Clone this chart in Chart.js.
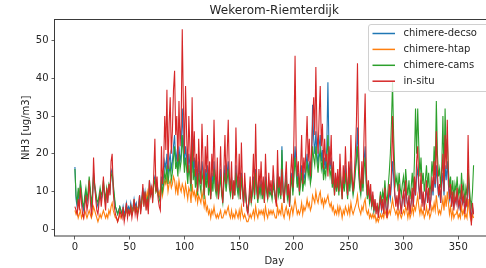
<!DOCTYPE html>
<html>
<head>
<meta charset="utf-8">
<script src="https://cdn.jsdelivr.net/npm/chart.js@4.4.1/dist/chart.umd.min.js"></script>
<style>
    body { margin: 0; background: #fff; overflow: hidden; }
    #wrap { width: 486px; height: 268px; overflow: hidden; }
    canvas { display: block; }
</style>
</head>
<body>
<div id="wrap"><canvas id="chart" width="520" height="268"></canvas></div>
<script>
// days of the year 0..364
const days = Array.from({length: 365}, (_, i) => i);

const seriesNames = ['chimere-decso', 'chimere-htap', 'chimere-cams', 'in-situ'];
const seriesColors = ['#1f77b4', '#ff7f0e', '#2ca02c', '#d62728'];

const xTicks = [0, 50, 100, 150, 200, 250, 300, 350];
const yTicks = [0, 10, 20, 30, 40, 50];

// values, 10 days per row
const decso = [
    16.5, 8, 6, 10, 7, 12, 9, 6, 5, 8,
    10, 7, 9, 12, 10, 6, 8, 15, 11, 9,
    7, 6, 8, 10, 8, 9, 12, 9, 7, 10,
    8, 11, 10, 15, 16, 11, 8, 6, 5, 4,
    5, 6, 5, 4, 6, 4, 5, 7, 5, 6,
    5, 7, 5, 6, 8, 6, 7, 5, 6, 9,
    6, 8, 11, 8, 10, 7, 9, 6, 13, 10,
    11, 9, 13, 14, 11, 12, 10, 9, 8, 14,
    12, 14, 18, 16, 20, 14, 18, 20, 16, 18,
    22, 25, 18, 20, 16, 22, 18, 20, 32, 24,
    17, 22, 19, 14, 20, 17, 12, 26, 15, 19,
    13, 16, 11, 18, 14, 12, 18, 15, 10, 16,
    13, 17, 11, 14, 9, 15, 12, 18, 13, 10,
    14, 9, 12, 16, 10, 8, 13, 17, 11, 15,
    18, 12, 10, 14, 9, 12, 10, 17, 12, 10,
    14, 9, 15, 11, 7, 12, 9, 6, 5, 8,
    11, 8, 10, 14, 9, 16, 11, 8, 12, 10,
    13, 9, 12, 8, 14, 11, 9, 12, 10, 11,
    9, 13, 11, 9, 8, 15, 10, 12, 9, 22,
    11, 8, 12, 14, 9, 11, 7, 12, 15, 10,
    16, 22, 17, 12, 15, 10, 13, 17, 11, 15,
    13, 17, 20, 15, 18, 13, 16, 33, 24, 20,
    26, 20, 17, 22, 25, 18, 21, 15, 19, 16,
    22, 39, 20, 16, 19, 12, 16, 10, 14, 11,
    14, 10, 16, 12, 9, 14, 11, 17, 12, 9,
    15, 11, 18, 13, 10, 12, 16, 20, 27, 17,
    12, 10, 15, 11, 18, 22, 13, 9, 12, 8,
    10, 6, 9, 5, 7, 5, 6, 4, 6, 8,
    5, 7, 5, 9, 6, 4, 7, 10, 8, 12,
    18, 14, 9, 7, 8, 6, 10, 7, 5, 8,
    9, 6, 11, 8, 6, 8, 5, 7, 10, 6,
    12, 9, 14, 16, 11, 8, 13, 7, 9, 6,
    8, 11, 7, 10, 6, 8, 12, 9, 14, 11,
    17, 12, 9, 10, 7, 12, 15, 9, 17, 13,
    18, 12, 8, 10, 6, 9, 6, 8, 7, 10,
    6, 7, 5, 10, 7, 8, 5, 7, 6, 14,
    9, 5, 3, 6, 4
];

const htap = [
    5, 4, 5, 3, 4, 5, 3, 4, 3, 5,
    4, 3, 4, 5, 4, 3, 4, 6, 5, 4,
    3, 2, 3, 4, 3, 4, 5, 4, 3, 4,
    3, 5, 4, 6, 7, 5, 4, 3, 3, 2,
    3, 4, 3, 4, 5, 3, 4, 5, 4, 5,
    4, 6, 5, 5, 7, 5, 6, 5, 6, 7,
    6, 8, 9, 7, 9, 8, 10, 8, 12, 10,
    11, 9, 13, 12, 10, 11, 9, 10, 8, 12,
    9, 11, 13, 12, 14, 10, 12, 13, 11, 12,
    14, 13, 10, 12, 9, 13, 11, 10, 12, 11,
    9, 12, 10, 8, 11, 10, 7, 12, 9, 10,
    8, 10, 7, 9, 8, 7, 10, 8, 6, 8,
    5, 6, 4, 5, 3, 5, 4, 6, 4, 3,
    4, 3, 4, 5, 3, 3, 4, 5, 4, 5,
    6, 4, 3, 5, 3, 4, 3, 5, 4, 3,
    5, 3, 6, 4, 3, 4, 3, 2, 2, 3,
    4, 3, 4, 5, 3, 6, 4, 3, 5, 4,
    5, 4, 5, 3, 6, 4, 3, 5, 4, 5,
    4, 5, 4, 3, 3, 6, 4, 5, 4, 7,
    4, 3, 5, 6, 4, 5, 3, 5, 6, 4,
    6, 8, 6, 4, 5, 4, 5, 7, 4, 6,
    5, 6, 8, 6, 7, 5, 6, 9, 8, 7,
    10, 8, 7, 9, 10, 7, 8, 6, 8, 7,
    8, 9, 7, 6, 7, 5, 6, 4, 5, 4,
    6, 4, 6, 5, 3, 5, 4, 6, 5, 4,
    6, 4, 7, 5, 4, 5, 6, 7, 9, 6,
    5, 4, 6, 5, 7, 8, 5, 4, 5, 3,
    4, 3, 4, 3, 4, 2, 3, 2, 3, 4,
    3, 4, 3, 5, 4, 3, 4, 5, 4, 6,
    8, 6, 5, 4, 5, 3, 5, 4, 3, 4,
    5, 4, 6, 5, 3, 5, 3, 4, 6, 4,
    6, 5, 7, 9, 6, 4, 6, 4, 5, 3,
    4, 6, 4, 5, 3, 4, 6, 5, 7, 5,
    9, 6, 4, 5, 4, 6, 8, 5, 9, 6,
    10, 7, 4, 6, 3, 5, 3, 4, 4, 5,
    3, 4, 3, 6, 4, 5, 3, 4, 3, 8,
    5, 3, 2, 4, 3
];

const cams = [
    16, 9, 7, 11, 8, 13, 10, 7, 6, 9,
    11, 8, 10, 14, 11, 7, 9, 14, 12, 10,
    8, 7, 9, 11, 9, 10, 13, 10, 8, 11,
    9, 12, 11, 14, 15, 12, 9, 6, 5, 4,
    5, 6, 5, 4, 5, 3, 4, 6, 4, 5,
    4, 6, 4, 5, 7, 5, 6, 4, 5, 8,
    5, 7, 10, 7, 9, 6, 8, 5, 11, 9,
    10, 8, 12, 13, 10, 11, 9, 8, 7, 12,
    10, 12, 15, 13, 17, 12, 15, 17, 13, 15,
    19, 22, 16, 18, 14, 20, 16, 18, 25, 20,
    15, 19, 16, 12, 17, 14, 10, 22, 13, 16,
    11, 14, 9, 15, 12, 10, 15, 13, 8, 14,
    11, 15, 9, 12, 8, 13, 10, 16, 11, 9,
    12, 8, 11, 14, 9, 7, 12, 15, 10, 13,
    16, 11, 9, 13, 8, 11, 9, 15, 11, 9,
    13, 8, 14, 10, 7, 11, 8, 6, 5, 7,
    10, 7, 9, 13, 8, 15, 10, 7, 11, 9,
    12, 8, 11, 7, 13, 10, 8, 11, 9, 10,
    8, 12, 10, 8, 7, 14, 9, 11, 8, 21,
    10, 7, 11, 13, 8, 10, 6, 11, 14, 9,
    14, 19, 15, 11, 14, 9, 12, 15, 10, 13,
    12, 15, 18, 14, 16, 12, 14, 22, 19, 17,
    22, 18, 15, 19, 21, 16, 18, 13, 16, 14,
    18, 25, 17, 14, 16, 11, 14, 9, 13, 10,
    13, 9, 15, 11, 8, 13, 10, 15, 11, 8,
    14, 10, 16, 12, 9, 11, 15, 18, 22, 15,
    11, 9, 14, 10, 16, 19, 12, 8, 11, 7,
    9, 6, 8, 5, 7, 5, 6, 5, 7, 10,
    7, 10, 8, 13, 9, 7, 11, 15, 20, 28,
    39, 25, 16, 12, 14, 10, 15, 11, 9, 12,
    14, 10, 16, 12, 9, 13, 8, 11, 15, 10,
    18, 32, 20, 32, 22, 14, 19, 12, 15, 10,
    13, 17, 11, 15, 9, 12, 18, 14, 22, 16,
    34, 20, 14, 16, 11, 17, 30, 14, 32, 19,
    24, 16, 11, 14, 9, 13, 8, 12, 10, 14,
    9, 11, 8, 15, 10, 12, 7, 11, 9, 16,
    12, 8, 6, 10, 17
];

const insitu = [
    6, 5, 4, 8, 5, 11, 7, 4, 3, 6,
    9, 5, 7, 13, 8, 4, 6, 19, 12, 8,
    5, 4, 7, 10, 6, 9, 14, 8, 5, 11,
    7, 12, 9, 18, 20, 10, 6, 4, 3, 2,
    3, 5, 4, 3, 6, 2, 4, 7, 3, 5,
    4, 6, 3, 5, 8, 4, 6, 3, 5, 9,
    4, 7, 12, 6, 10, 5, 8, 4, 13, 9,
    11, 7, 15, 24, 10, 14, 8, 6, 5, 22,
    12, 17, 30, 21, 37, 16, 28, 35, 20, 26,
    37, 42, 25, 30, 18, 34, 22, 28, 53, 33,
    20, 38, 25, 15, 30, 22, 12, 35, 18, 26,
    14, 20, 10, 24, 16, 12, 28, 18, 9, 22,
    15, 25, 11, 18, 8, 20, 14, 29, 16, 10,
    19, 8, 13, 22, 11, 7, 16, 25, 12, 20,
    29, 14, 10, 18, 8, 13, 9, 27, 15, 11,
    20, 8, 23, 12, 6, 15, 10, 5, 4, 9,
    14, 7, 12, 20, 9, 28, 13, 8, 16, 11,
    18, 9, 14, 7, 20, 12, 8, 15, 10, 13,
    9, 17, 12, 8, 6, 21, 11, 14, 9, 16,
    10, 7, 13, 18, 9, 12, 6, 15, 20, 11,
    25, 46, 22, 14, 18, 10, 16, 25, 12, 19,
    15, 22, 30, 18, 24, 14, 20, 28, 35, 25,
    43, 26, 20, 30, 38, 22, 28, 16, 24, 18,
    20, 14, 22, 17, 25, 12, 18, 9, 15, 11,
    16, 10, 20, 13, 8, 17, 12, 22, 14, 9,
    18, 12, 25, 15, 10, 14, 20, 28, 44, 22,
    14, 10, 18, 12, 25, 36, 16, 9, 13, 8,
    12, 6, 10, 5, 8, 4, 7, 3, 6, 9,
    5, 8, 4, 11, 6, 3, 7, 12, 9, 15,
    30, 18, 10, 6, 9, 5, 12, 7, 4, 8,
    10, 6, 13, 8, 5, 9, 4, 7, 11, 6,
    14, 9, 18, 22, 12, 8, 15, 6, 10, 5,
    9, 13, 7, 11, 5, 8, 14, 10, 18, 12,
    26, 15, 9, 12, 7, 14, 20, 10, 25, 16,
    29, 14, 8, 12, 6, 10, 5, 9, 7, 11,
    6, 8, 5, 12, 7, 9, 4, 8, 6, 25,
    10, 5, 1, 7, 4
];

const allSeries = [decso, htap, cams, insitu];

const font = 'DejaVu Sans';
const textColor = '#262626';

// title, box around the plot and legend inside the plot (like matplotlib)
const framePlugin = {
    id: 'frame',
    afterDraw(chart) {
        const ctx = chart.ctx;
        const area = chart.chartArea;
        ctx.save();

        ctx.strokeStyle = '#3a3a3a';
        ctx.lineWidth = 1;
        ctx.strokeRect(area.left - 0.5, area.top, area.right - area.left + 0.5, area.bottom - area.top);

        ctx.fillStyle = textColor;
        ctx.font = '12px ' + font;
        ctx.textAlign = 'center';
        ctx.textBaseline = 'alphabetic';
        ctx.fillText('Wekerom-Riemterdijk', (area.left + area.right) / 2, 13.5);

        // legend box
        const bx = 368.5, by = 24.5, bw = 122, bh = 67;
        ctx.globalAlpha = 0.8;
        ctx.fillStyle = '#fff';
        ctx.beginPath();
        ctx.roundRect(bx, by, bw, bh, 2.5);
        ctx.fill();
        ctx.globalAlpha = 1;
        ctx.strokeStyle = '#d0d0d0';
        ctx.stroke();

        ctx.font = '10px ' + font;
        ctx.textAlign = 'left';
        ctx.textBaseline = 'middle';
        seriesNames.forEach((name, i) => {
            const y = 33.5 + i * 15.9;
            ctx.strokeStyle = seriesColors[i];
            ctx.lineWidth = 1.5;
            ctx.beginPath();
            ctx.moveTo(372.5, y);
            ctx.lineTo(395, y);
            ctx.stroke();
            ctx.fillStyle = textColor;
            ctx.fillText(name, 403.5, y);
        });
        ctx.restore();
    }
};

const datasets = allSeries.map((values, i) => ({
    label: seriesNames[i],
    data: days.map((d, j) => ({x: d, y: values[j]})),
    borderColor: seriesColors[i],
    borderWidth: 1.1,
    pointRadius: 0,
    tension: 0,
    order: allSeries.length - i
}));

const ctx = document.getElementById('chart').getContext('2d');
const chart = new Chart(ctx, {
    type: 'line',
    data: {datasets: datasets},
    plugins: [framePlugin],
    options: {
        responsive: false,
        animation: false,
        devicePixelRatio: 1,
        layout: {padding: {top: 19.5, right: 26.5, left: 0, bottom: 0}},
        plugins: {
            legend: {display: false},
            title: {display: false},
            tooltip: {enabled: false}
        },
        scales: {
            x: {
                type: 'linear',
                min: -18.2,
                max: 382.2,
                afterBuildTicks: (scale) => { scale.ticks = xTicks.map(v => ({value: v})); },
                afterFit: (scale) => { scale.height = 32; },
                grid: {drawOnChartArea: false, tickLength: 3.5, color: '#3a3a3a', lineWidth: 0.8},
                border: {display: false},
                ticks: {color: textColor, font: {family: font, size: 10}, padding: 2, maxRotation: 0},
                title: {display: true, text: 'Day', color: textColor, font: {family: font, size: 10}, padding: {top: 0, bottom: 1}}
            },
            y: {
                min: -1.77,
                max: 55.6,
                afterBuildTicks: (scale) => { scale.ticks = yTicks.map(v => ({value: v})); },
                afterFit: (scale) => { scale.width = 55; },
                grid: {drawOnChartArea: false, tickLength: 3.5, color: '#3a3a3a', lineWidth: 0.8},
                border: {display: false},
                ticks: {color: textColor, font: {family: font, size: 10}, padding: 3},
                title: {display: true, text: 'NH3 [ug/m3]', color: textColor, font: {family: font, size: 10}, padding: {top: 20.5, bottom: 0}}
            }
        }
    }
});
</script>
</body>
</html>
